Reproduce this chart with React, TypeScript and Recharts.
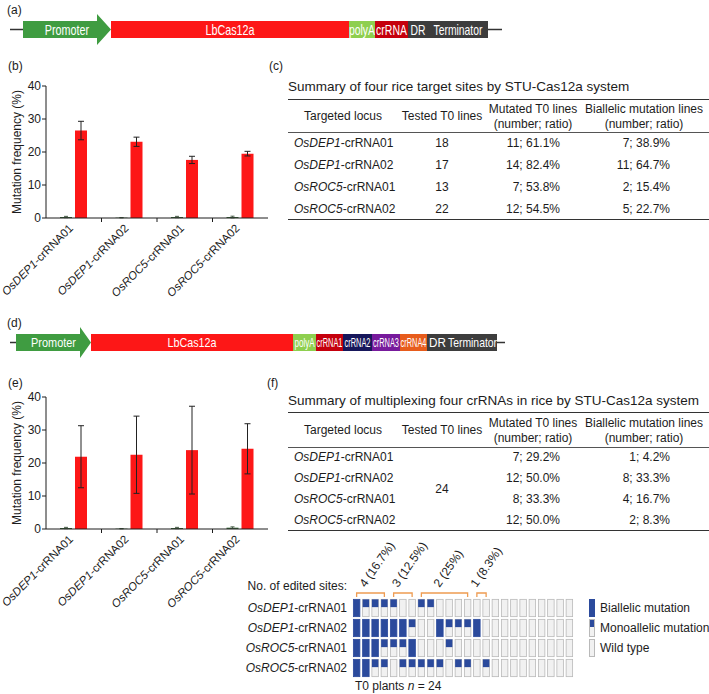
import React from 'react';
import { BarChart, Bar, XAxis, YAxis, ErrorBar, ScatterChart, Scatter } from 'recharts';

const FONT = '"Liberation Sans", Arial, Helvetica, sans-serif';
const INK = '#1c1c1c';
const RED = '#fd1717';
const BLUE = '#2b4a9c';
const ORANGE = '#ee9c52';

// vector constructs (a) and (d): segment names and relative lengths
const constructANames = ['', 'Promoter', 'LbCas12a', 'polyA', 'crRNA', 'DR', 'Terminator', ''];
const constructALengths = [13, 88, 238, 26, 33, 20, 60, 14];
const constructDNames = ['', 'Promoter', 'LbCas12a', 'polyA', 'crRNA1', 'crRNA2', 'crRNA3', 'crRNA4', 'DR', 'Terminator', ''];
const constructDLengths = [6, 75, 202, 23, 27, 29, 28, 27, 21, 49, 8];

// mutation frequency charts (b) and (e)
const targetGenes = ['OsDEP1', 'OsDEP1', 'OsROC5', 'OsROC5'];
const targetGuides = ['-crRNA01', '-crRNA02', '-crRNA01', '-crRNA02'];
const singleControl = [0.3, 0.1, 0.3, 0.3];
const singleControlErr = [0.2, 0.05, 0.2, 0.25];
const singleMutation = [26.5, 23.1, 17.6, 19.5];
const singleMutationErr = [2.8, 1.4, 1.1, 0.7];
const multiControl = [0.3, 0.1, 0.3, 0.4];
const multiControlErr = [0.2, 0.05, 0.2, 0.25];
const multiMutation = [21.9, 22.5, 23.9, 24.3];
const multiMutationErr = [9.4, 11.7, 13.3, 7.6];
const freqTicks = [0, 10, 20, 30, 40];

// summary tables (c) and (f)
const tableHeaders = [['Targeted locus'], ['Tested T0 lines'], ['Mutated T0 lines', '(number; ratio)'], ['Biallelic mutation lines', '(number; ratio)']];
const singleTested = ['18', '17', '13', '22'];
const singleMutated = ['11; 61.1%', '14; 82.4%', '7; 53.8%', '12; 54.5%'];
const singleBiallelic = ['7; 38.9%', '11; 64.7%', '2; 15.4%', '5; 22.7%'];
const multiTested = '24';
const multiMutated = ['7; 29.2%', '12; 50.0%', '8; 33.3%', '12; 50.0%'];
const multiBiallelic = ['1; 4.2%', '8; 33.3%', '4; 16.7%', '2; 8.3%'];

// per-plant genotype grid: B biallelic, M monoallelic, W wild type
const gridRows = [
  'BMMMMWWMMWWWWWWWWWWWWWWW',
  'BBBBBBMWWBMMMBWWWWWWWWWW',
  'BBBMMMBWWWMWWWWWWWWWWWWW',
  'BBMMWMMMMMWMMWMWWWWWWWWW',
];
const bracketFrom = [1, 5, 8, 14];
const bracketTo = [4, 7, 13, 15];
const bracketText = ['4 (16.7%)', '3 (12.5%)', '2 (25%)', '1 (8.3%)'];
const legendText = ['Biallelic mutation', 'Monoallelic mutation', 'Wild type'];

const segColor: Record<string, string> = {
  Promoter: '#3f9c41', LbCas12a: RED, polyA: '#8ecf4f', crRNA: '#c5000d', crRNA1: '#c5000d',
  crRNA2: '#17175b', crRNA3: '#771a9c', crRNA4: '#e75c1c', DR: '#3d3d3d', Terminator: '#3d3d3d',
};
const scaleA: Record<string, number> = { Promoter: 0.77, LbCas12a: 0.77, polyA: 0.74, crRNA: 0.75, DR: 0.74, Terminator: 0.74 };
const scaleD: Record<string, number> = { Promoter: 0.84, LbCas12a: 0.83, polyA: 0.62, crRNA1: 0.57, crRNA2: 0.57, crRNA3: 0.57, crRNA4: 0.57, DR: 0.9, Terminator: 0.8 };

const Construct = ({ names, lengths, left, top, width, fontSize, scales, head }: any) => {
  const row: any = { name: 'c' };
  lengths.forEach((v: number, i: number) => (row['s' + i] = v));
  const total = lengths.reduce((a: number, b: number) => a + b, 0);
  const shape = (i: number) => (p: any) => {
    const { x, y, width: w, height: h } = p;
    const name = names[i];
    const cy = y + h / 2;
    if (!name) return <line x1={x} x2={x + w} y1={cy} y2={cy} stroke="#333" strokeWidth={1.5} />;
    const bx = x + w - head;
    return (
      <g>
        {name === 'Promoter' ? (
          <polygon points={`${x},${y} ${bx},${y} ${bx},${y - 7} ${x + w},${cy} ${bx},${y + h + 7} ${bx},${y + h} ${x},${y + h}`} fill={segColor[name]} />
        ) : (
          <rect x={x} y={y} width={w} height={h} fill={segColor[name]} />
        )}
        <text transform={`translate(${x + w / 2},${cy}) scale(${scales[name]},1)`} textAnchor="middle" dy="0.36em"
          fontSize={fontSize} fontFamily={FONT} fill="#fff">{name}</text>
      </g>
    );
  };
  return (
    <div style={{ position: 'absolute', left, top }}>
      <BarChart width={width} height={44} data={[row]} layout="vertical" margin={{ top: 0, right: 0, bottom: 0, left: 0 }} barSize={17}>
        <XAxis type="number" hide domain={[0, total]} />
        <YAxis type="category" dataKey="name" hide />
        {lengths.map((_: number, i: number) => (
          <Bar key={i} dataKey={'s' + i} stackId="c" isAnimationActive={false} shape={shape(i)} />
        ))}
      </BarChart>
    </div>
  );
};

const BAND = 55.5;
const GeneTick = (p: any) => {
  const { x, y, index } = p;
  return (
    <g transform={`translate(${x},${y})`}>
      {index < 3 && <line x1={BAND / 2} x2={BAND / 2} y1={0} y2={4} stroke={INK} />}
      <text transform="translate(0,11) rotate(-45)" textAnchor="end" fontSize={11.5} fontFamily={FONT} fill={INK}>
        <tspan fontStyle="italic">{targetGenes[index]}</tspan>
        <tspan>{targetGuides[index]}</tspan>
      </text>
    </g>
  );
};

const FrequencyChart = ({ top, control, controlErr, mutation, mutationErr }: any) => {
  const data = targetGenes.map((g, i) => ({
    name: g + targetGuides[i], control: control[i], controlErr: controlErr[i], mutation: mutation[i], mutationErr: mutationErr[i],
  }));
  return (
    <div style={{ position: 'absolute', left: 0, top }}>
      <BarChart width={280} height={228} data={data} margin={{ top: 16, right: 12, left: 0, bottom: 0 }} barSize={12} barGap={3}>
        <XAxis dataKey="name" height={80} interval={0} tickLine={false} tickSize={0} tickMargin={0} axisLine={{ stroke: INK }} tick={(p: any) => <GeneTick {...p} />} />
        <YAxis width={46} domain={[0, 40]} ticks={freqTicks} interval={0} tickSize={4} tickMargin={1}
          axisLine={{ stroke: INK }} tickLine={{ stroke: INK }} tick={{ fontSize: 12, fill: INK, fontFamily: FONT }}
          label={{ value: 'Mutation frequency (%)', angle: -90, position: 'insideLeft', offset: 17, style: { textAnchor: 'middle', fontSize: 12, fill: INK, fontFamily: FONT } }} />
        <Bar dataKey="control" fill="#3a6b3a" isAnimationActive={false}>
          <ErrorBar dataKey="controlErr" width={2} stroke="#4a5f4a" strokeWidth={1} />
        </Bar>
        <Bar dataKey="mutation" fill={RED} isAnimationActive={false}>
          <ErrorBar dataKey="mutationErr" width={3} stroke="#222" strokeWidth={1} />
        </Bar>
      </BarChart>
    </div>
  );
};

const colW = [110, 88, 94, 128];
const colX = [0, 110, 198, 292];
const SummaryTable = ({ top, titleY, title, headerH, rowH, tested, merged, mutated, biallelic }: any) => {
  const abs = (s: any) => ({ position: 'absolute' as const, ...s });
  const bodyTop = top + headerH;
  return (
    <div>
      <div style={abs({ left: 288, top: titleY - 9, fontSize: 13.5, lineHeight: '18px', whiteSpace: 'nowrap' })}>{title}</div>
      <div style={abs({ left: 288, top: top - 0.75, width: 421, borderTop: '1.5px solid #333' })} />
      <div style={abs({ left: 288, top: bodyTop - 0.5, width: 421, borderTop: '1px solid #555' })} />
      <div style={abs({ left: 288, top: bodyTop + rowH * 4 - 0.75, width: 421, borderTop: '1.5px solid #333' })} />
      {tableHeaders.map((lines, c) => (
        <div key={c} style={abs({ left: 288 + colX[c], top: top + headerH / 2 - (lines.length * 14.5) / 2 + 0.5, width: colW[c], textAlign: 'center', fontSize: 12, lineHeight: '14.5px', whiteSpace: 'nowrap' })}>
          {lines.map((l: string, k: number) => <div key={k}>{l}</div>)}
        </div>
      ))}
      {targetGenes.map((g, r) => {
        const rowStyle = { top: bodyTop + r * rowH, height: rowH, lineHeight: rowH + 'px', fontSize: 12, whiteSpace: 'nowrap' as const };
        return (
          <React.Fragment key={r}>
            <div style={abs({ ...rowStyle, left: 288 + 6 })}><i>{g}</i>{targetGuides[r]}</div>
            {!merged && <div style={abs({ ...rowStyle, left: 288 + colX[1], width: colW[1], textAlign: 'center' })}>{tested[r]}</div>}
            <div style={abs({ ...rowStyle, left: 288 + colX[2], width: colW[2] - 20, textAlign: 'right' })}>{mutated[r]}</div>
            <div style={abs({ ...rowStyle, left: 288 + colX[3], width: colW[3] - 38, textAlign: 'right' })}>{biallelic[r]}</div>
          </React.Fragment>
        );
      })}
      {merged && (
        <div style={abs({ left: 288 + colX[1], width: colW[1], top: bodyTop, height: rowH * 4, lineHeight: rowH * 4 + 'px', textAlign: 'center', fontSize: 12 })}>{tested}</div>
      )}
    </div>
  );
};

const CELL_W = 6.5;
const CELL_H = 17.3;
const CellShape = (p: any) => {
  const { cx, cy, payload } = p;
  const x0 = cx - CELL_W / 2;
  const y0 = cy - CELL_H / 2;
  const full = payload.s === 'B';
  return (
    <g>
      <rect x={x0} y={y0} width={CELL_W} height={CELL_H} fill={full ? BLUE : '#f1f1f1'} stroke={full ? BLUE : '#b9b9b9'} strokeWidth={0.8} />
      {payload.s === 'M' && <rect x={x0} y={y0} width={CELL_W} height={CELL_H * 0.45} fill={BLUE} />}
    </g>
  );
};

const RowTick = (p: any) => {
  const v = p.payload.value;
  const idx = Math.round(v);
  return (
    <text x={p.x - 5} y={p.y} dy="0.35em" textAnchor="end" fontSize={12} fontFamily={FONT} fill={INK}>
      {v < -0.5 ? 'No. of edited sites:' : (
        <>
          <tspan fontStyle="italic">{targetGenes[idx]}</tspan>
          <tspan>{targetGuides[idx]}</tspan>
        </>
      )}
    </text>
  );
};

const GenotypeGrid = () => {
  const cells = gridRows.flatMap((row, r) => row.split('').map((s, c) => ({ x: c + 1, y: r, s })));
  const labels = bracketFrom.map((f, i) => ({ x: (f + bracketTo[i]) / 2, y: -1.0, text: bracketText[i] }));
  return (
    <div style={{ position: 'absolute', left: 200, top: 537.7 }}>
      <ScatterChart width={379} height={140} margin={{ top: 40, right: 5, left: 0, bottom: 0 }}>
        <XAxis type="number" dataKey="x" domain={[0.5, 24.5]} hide />
        <YAxis type="number" dataKey="y" domain={[-1.5, 3.5]} reversed width={152} ticks={[-1.13, 0, 1, 2, 3]} interval={0}
          tickLine={false} axisLine={false} tickSize={0} tickMargin={0} tick={(p: any) => <RowTick {...p} />} />
        <Scatter data={cells} shape={(p: any) => <CellShape {...p} />} isAnimationActive={false} />
        {bracketFrom.map((f, i) => (
          <Scatter key={i}
            data={[{ x: f, y: -0.55 }, { x: f, y: -0.75 }, { x: bracketTo[i], y: -0.75 }, { x: bracketTo[i], y: -0.55 }]}
            line={{ stroke: ORANGE, strokeWidth: 1.3 }} shape={() => <g />} isAnimationActive={false} />
        ))}
        <Scatter data={labels} isAnimationActive={false}
          shape={(p: any) => (
            <text x={p.cx - 5} y={p.cy} transform={`rotate(-55, ${p.cx - 5}, ${p.cy})`} fontSize={12} fontFamily={FONT} fill={INK}>{p.payload.text}</text>
          )} />
      </ScatterChart>
    </div>
  );
};

const Tag = ({ x, y, children }: any) => (
  <div style={{ position: 'absolute', left: x, top: y - 8, lineHeight: '16px', fontSize: 12, whiteSpace: 'nowrap' }}>{children}</div>
);

export default function App() {
  return (
    <div style={{ position: 'absolute', left: 0, top: 0, width: 709, height: 694, fontFamily: FONT, color: INK, background: '#fff', overflow: 'hidden' }}>
      <Tag x={7} y={10}>(a)</Tag>
      <Construct names={constructANames} lengths={constructALengths} left={10} top={7} width={492} fontSize={14} scales={scaleA} head={14} />

      <Tag x={8} y={66}>(b)</Tag>
      <FrequencyChart top={70} control={singleControl} controlErr={singleControlErr} mutation={singleMutation} mutationErr={singleMutationErr} />

      <Tag x={269} y={66}>(c)</Tag>
      <SummaryTable top={100} titleY={86.5} title="Summary of four rice target sites by STU-Cas12a system" headerH={32} rowH={22}
        tested={singleTested} merged={false} mutated={singleMutated} biallelic={singleBiallelic} />

      <Tag x={7} y={323}>(d)</Tag>
      <Construct names={constructDNames} lengths={constructDLengths} left={10} top={319.5} width={495} fontSize={13} scales={scaleD} head={11} />

      <Tag x={8} y={383}>(e)</Tag>
      <FrequencyChart top={381} control={multiControl} controlErr={multiControlErr} mutation={multiMutation} mutationErr={multiMutationErr} />

      <Tag x={267} y={383}>(f)</Tag>
      <SummaryTable top={413} titleY={400.5} title="Summary of multiplexing four crRNAs in rice by STU-Cas12a system" headerH={34} rowH={21}
        tested={multiTested} merged={true} mutated={multiMutated} biallelic={multiBiallelic} />

      <GenotypeGrid />
      {legendText.map((t, i) => (
        <React.Fragment key={t}>
          <div style={{ position: 'absolute', left: 589, top: 599.3 + i * 20, width: 5.5, height: 17.3, boxSizing: 'border-box',
            background: i === 0 ? BLUE : i === 1 ? `linear-gradient(${BLUE} 0 45%, #f1f1f1 45% 100%)` : '#f1f1f1',
            border: i === 0 ? 'none' : '0.8px solid #b9b9b9' }} />
          <Tag x={600} y={607.5 + i * 20}>{t}</Tag>
        </React.Fragment>
      ))}
      <Tag x={355} y={686}>T0 plants <i>n</i> = 24</Tag>
    </div>
  );
}
